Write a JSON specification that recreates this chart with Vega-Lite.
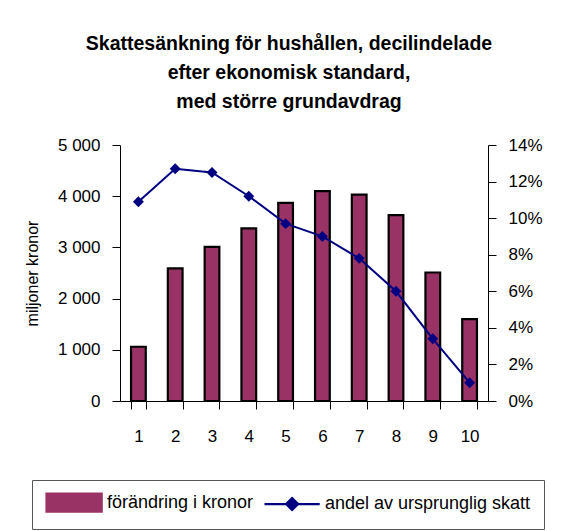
{
  "$schema": "https://vega.github.io/schema/vega-lite/v6.json",
  "autosize": {"type": "none"},
  "width": 368,
  "height": 256,
  "padding": {"left": 120, "top": 145, "right": 75, "bottom": 130},
  "background": "white",
  "config": {
    "font": "Liberation Sans",
    "view": {"stroke": null},
    "axis": {"domainColor": "black", "tickColor": "black", "labelColor": "black", "titleColor": "black", "labelFont": "Liberation Sans", "titleFont": "Liberation Sans", "grid": false, "domainWidth": 1, "tickWidth": 1},
    "legend": {
      "title": null, "orient": "none", "legendX": -88, "legendY": 335, "direction": "horizontal",
      "strokeColor": "#555555", "padding": 13, "labelFontSize": 18, "labelColor": "black", "labelFont": "Liberation Sans", "labelLimit": 400,
      "symbolSize": 256, "labelOffset": 43, "columnPadding": 6
    }
  },
  "title": {
    "text": ["Skattesänkning för hushållen, decilindelade", "efter ekonomisk standard,", "med större grundavdrag"],
    "font": "Liberation Sans",
    "fontSize": 19.5,
    "fontWeight": "bold",
    "color": "black",
    "lineHeight": 29,
    "anchor": "middle",
    "dx": -15,
    "offset": 24
  },
  "data": {
    "values": [
      {"decil": "1", "kronor": 1060, "andel": 0.109},
      {"decil": "2", "kronor": 2590, "andel": 0.127},
      {"decil": "3", "kronor": 3010, "andel": 0.125},
      {"decil": "4", "kronor": 3370, "andel": 0.112},
      {"decil": "5", "kronor": 3870, "andel": 0.097},
      {"decil": "6", "kronor": 4100, "andel": 0.090},
      {"decil": "7", "kronor": 4030, "andel": 0.078},
      {"decil": "8", "kronor": 3630, "andel": 0.060},
      {"decil": "9", "kronor": 2510, "andel": 0.034},
      {"decil": "10", "kronor": 1600, "andel": 0.010}
    ]
  },
  "encoding": {
    "x": {
      "field": "decil", "type": "ordinal", "sort": null,
      "scale": {"paddingInner": 0.6, "paddingOuter": 0.3},
      "axis": {"title": null, "labelAngle": 0, "labelFontSize": 17, "tickBand": "extent", "tickSize": 8, "labelPadding": 19}
    }
  },
  "layer": [
    {
      "mark": {"type": "bar", "stroke": "#000000", "strokeWidth": 2.2, "strokeOpacity": 1},
      "encoding": {
        "y": {
          "field": "kronor", "type": "quantitative",
          "scale": {"domain": [0, 5000]},
          "axis": {
            "values": [0, 1000, 2000, 3000, 4000, 5000],
            "labelExpr": "replace(format(datum.value, ','), ',', ' ')",
            "labelFontSize": 17, "tickSize": 8, "labelPadding": 12,
            "title": "miljoner kronor", "titleFontSize": 16, "titleFontWeight": "normal",
            "titleX": -88, "titleY": 128, "titleAngle": -90, "titleAlign": "center", "titleBaseline": "middle"
          }
        },
        "color": {
          "datum": "förändring i kronor",
          "scale": {"domain": ["förändring i kronor", "andel av ursprunglig skatt"], "range": ["#993366", "#000080"]},
          "legend": {
            "encode": {
              "symbols": {
                "update": {
                  "shape": {"signal": "datum.value === 'förändring i kronor' ? 'M-1,-1.125H5.9V1.125H-1Z' : 'M-1,0H5.9M2.45,-0.75L3.2,0L2.45,0.75L1.7,0Z'"},
                  "fill": {"signal": "datum.value === 'förändring i kronor' ? '#993366' : '#000080'"},
                  "stroke": {"signal": "datum.value === 'förändring i kronor' ? '#000000' : '#000080'"},
                  "strokeWidth": {"value": 2.2},
                  "opacity": {"value": 1},
                  "strokeOpacity": {"value": 1},
                  "fillOpacity": {"value": 1}
                }
              }
            }
          }
        }
      }
    },
    {
      "mark": {"type": "line", "color": "#000080", "strokeWidth": 2, "point": {"shape": "diamond", "size": 120, "filled": true, "color": "#000080"}},
      "encoding": {
        "y": {
          "field": "andel", "type": "quantitative",
          "scale": {"domain": [0, 0.14]},
          "axis": {
            "orient": "right",
            "values": [0, 0.02, 0.04, 0.06, 0.08, 0.1, 0.12, 0.14],
            "format": ".0%", "labelFontSize": 17, "tickSize": 8, "labelPadding": 12, "title": null
          }
        },
        "color": {
          "datum": "andel av ursprunglig skatt",
          "legend": {
            "encode": {
              "symbols": {
                "update": {
                  "shape": {"signal": "datum.value === 'förändring i kronor' ? 'M-1,-1.125H5.9V1.125H-1Z' : 'M-1,0H5.9M2.45,-0.75L3.2,0L2.45,0.75L1.7,0Z'"},
                  "fill": {"signal": "datum.value === 'förändring i kronor' ? '#993366' : '#000080'"},
                  "stroke": {"signal": "datum.value === 'förändring i kronor' ? '#000000' : '#000080'"},
                  "strokeWidth": {"value": 2.2},
                  "opacity": {"value": 1},
                  "strokeOpacity": {"value": 1},
                  "fillOpacity": {"value": 1}
                }
              }
            }
          }
        }
      }
    }
  ],
  "resolve": {"scale": {"y": "independent"}}
}
